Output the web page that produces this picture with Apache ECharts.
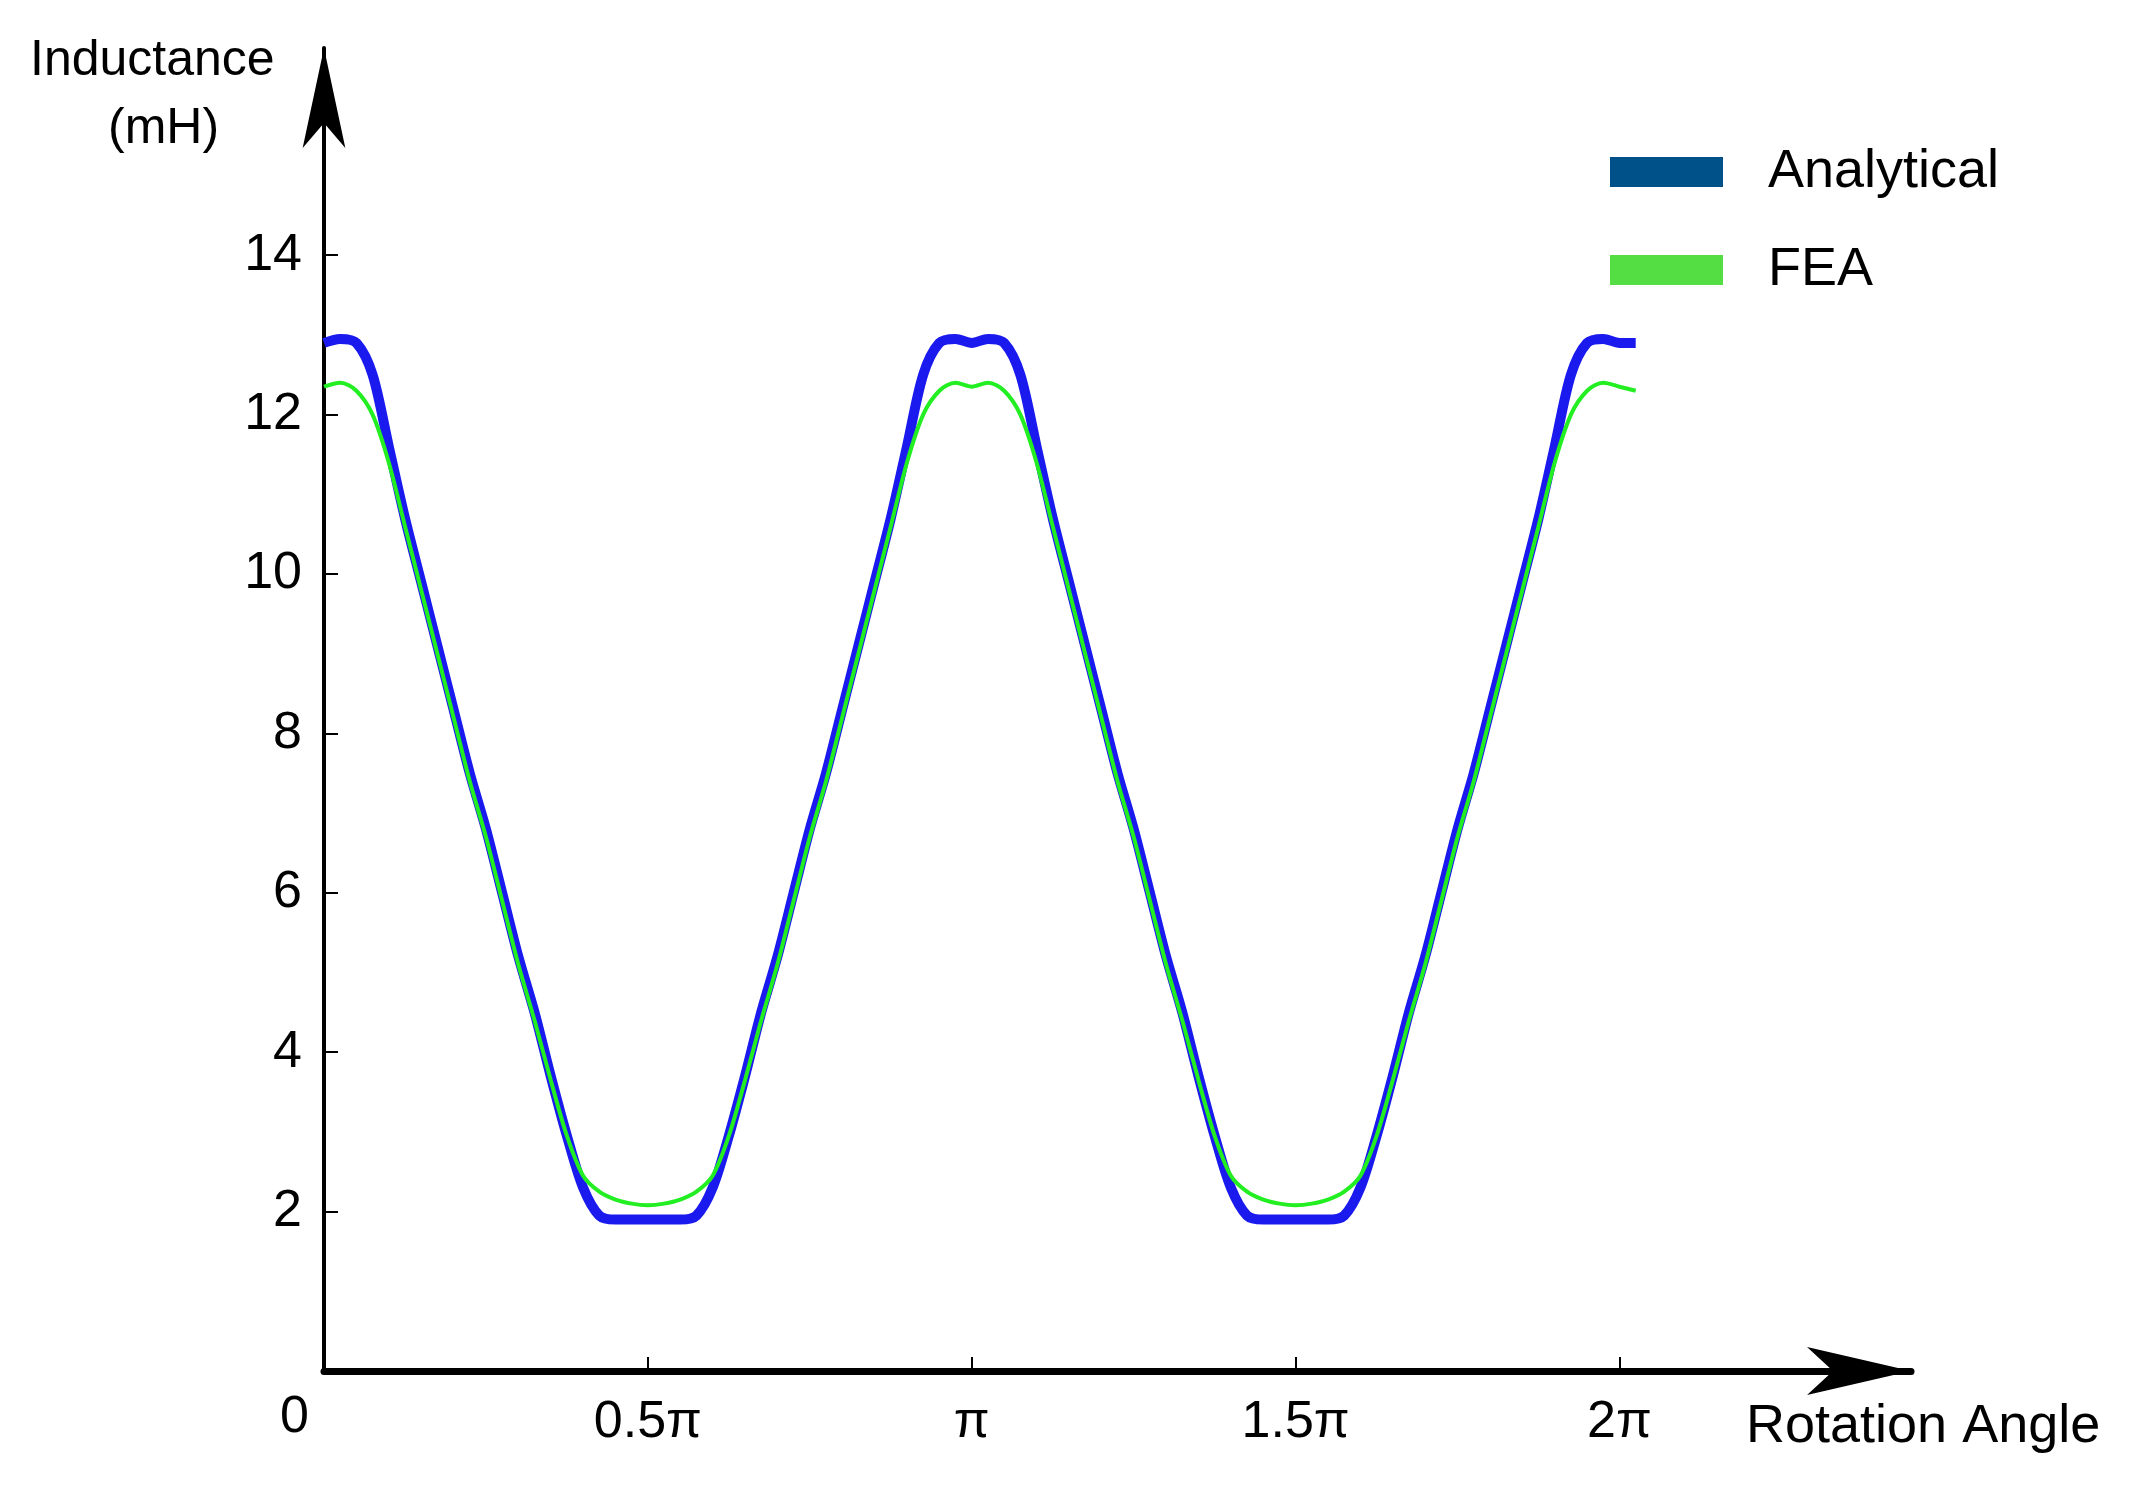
<!DOCTYPE html>
<html><head><meta charset="utf-8">
<script src="https://cdn.jsdelivr.net/npm/echarts@6/dist/echarts.min.js"></script>
<style>html,body{margin:0;padding:0;background:#fff}#c{width:2153px;height:1485px}</style>
</head><body><div id="c"></div>
<script>
// x in units of π, step 0.025 from 0 to 2.025
const angles = [];
for (let i = 0; i <= 81; i++) angles.push(+(i * 0.025).toFixed(3));
const analytical = [
 12.9,12.95,12.9,12.5,11.6,10.7,9.9,9.1,8.3,7.5,6.8,6.0,5.2,4.5,3.7,2.95,2.3,1.95,1.9,1.9,1.9,
 1.9,1.9,1.95,2.3,2.95,3.7,4.5,5.2,6.0,6.8,7.5,8.3,9.1,9.9,10.7,11.6,12.5,12.9,12.95,12.9,
 12.95,12.9,12.5,11.6,10.7,9.9,9.1,8.3,7.5,6.8,6.0,5.2,4.5,3.7,2.95,2.3,1.95,1.9,1.9,1.9,
 1.9,1.9,1.95,2.3,2.95,3.7,4.5,5.2,6.0,6.8,7.5,8.3,9.1,9.9,10.7,11.6,12.5,12.9,12.95,12.9,
 12.9
];
const fea = [
 12.35,12.4,12.3,12.0,11.4,10.6,9.8,9.0,8.2,7.4,6.7,5.9,5.1,4.4,3.65,2.95,2.45,2.25,2.15,2.1,2.08,
 2.1,2.15,2.25,2.45,2.95,3.65,4.4,5.1,5.9,6.7,7.4,8.2,9.0,9.8,10.6,11.4,12.0,12.3,12.4,12.35,
 12.4,12.3,12.0,11.4,10.6,9.8,9.0,8.2,7.4,6.7,5.9,5.1,4.4,3.65,2.95,2.45,2.25,2.15,2.1,2.08,
 2.1,2.15,2.25,2.45,2.95,3.65,4.4,5.1,5.9,6.7,7.4,8.2,9.0,9.8,10.6,11.4,12.0,12.3,12.4,12.35,
 12.3
];
const xTickValues = [0.5,1,1.5,2];
const xTickLabels = {0.5:'0.5π',1:'π',1.5:'1.5π',2:'2π'};
const yTicks = [2,4,6,8,10,12,14];

const chart = echarts.init(document.getElementById('c'));
const F = 'Liberation Sans, Arial, sans-serif';
chart.setOption({
  animation:false,
  grid:{left:324,right:242,top:48,bottom:114},
  xAxis:{type:'value',min:0,max:2.45,interval:0.5,
    axisLine:{lineStyle:{color:'#000',width:7},symbol:['none','arrow'],symbolSize:[36,104]},
    axisTick:{inside:true,length:14,lineStyle:{color:'#000',width:2},customValues:xTickValues},
    splitLine:{show:false},
    axisLabel:{fontSize:52,fontFamily:F,color:'#000',margin:26,customValues:xTickValues,formatter:v=>xTickLabels[v]||''}},
  yAxis:{type:'value',min:0,max:16.6,interval:2,
    axisLine:{lineStyle:{color:'#000',width:4},symbol:['none','arrow'],symbolSize:[32,100]},
    axisTick:{inside:true,length:14,lineStyle:{color:'#000',width:2},customValues:yTicks},
    splitLine:{show:false},
    axisLabel:{fontSize:52,fontFamily:F,color:'#000',margin:22,customValues:yTicks,formatter:v=>yTicks.includes(v)?String(v):''}},
  legend:{orient:'vertical',left:1605,top:140,icon:'rect',itemWidth:113,itemHeight:30,itemGap:44,
    textStyle:{fontSize:54,fontFamily:F,color:'#000',padding:[0,0,0,40]},
    data:[{name:'Analytical',itemStyle:{color:'#00508a'}},{name:'FEA',itemStyle:{color:'#55dd44'}}]},
  graphic:[
    {type:'text',left:30,top:36,style:{text:'Inductance',font:'50px '+F,fill:'#000'}},
    {type:'text',left:108,top:104,style:{text:'(mH)',font:'50px '+F,fill:'#000'}},
    {type:'text',left:280,top:1392,style:{text:'0',font:'52px '+F,fill:'#000'}},
    {type:'text',left:1746,top:1400,style:{text:'Rotation Angle',font:'54px '+F,fill:'#000'}}
  ],
  series:[
    {name:'Analytical',type:'line',data:angles.map((a,i)=>[a,analytical[i]]),showSymbol:false,smooth:0.3,
     lineStyle:{color:'#1a1aee',width:10},itemStyle:{color:'#00508a'},z:2},
    {name:'FEA',type:'line',data:angles.map((a,i)=>[a,fea[i]]),showSymbol:false,smooth:0.3,
     lineStyle:{color:'#22ee22',width:4},itemStyle:{color:'#55dd44'},z:3}
  ]
});
</script></body></html>
